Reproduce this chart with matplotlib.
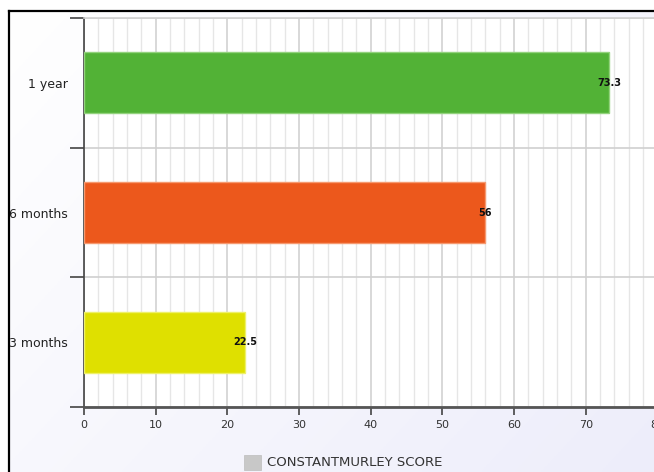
import numpy as np
import matplotlib
matplotlib.use('Agg')
import matplotlib.pyplot as plt
from matplotlib.patches import Rectangle

categories = ['3 months', '6 months', '1 year']
scores = [22.5, 56, 73.3]
bar_colors = ['#dfe000', '#ec581c', '#52b236']
edge_colors = ['#eef06a', '#f6996f', '#93d27d']
legend_label = 'CONSTANTMURLEY SCORE'
x_ticks = [0, 10, 20, 30, 40, 50, 60, 70, 80]

W, H = 654, 472
fig = plt.figure(figsize=(W / 100, H / 100), dpi=100)
fig.patch.set_facecolor('white')

# soft lavender gradient behind the chart, inside the frame
bg = fig.add_axes([9 / W, 0, 1 - 9 / W, (H - 11) / H], zorder=-5)
gx, gy = np.meshgrid(np.linspace(0, 1, 200), np.linspace(0, 1, 200))
t = (gx * 0.6 + gy * 0.4)
c0 = np.array([1.0, 1.0, 1.0])
c1 = np.array([0.93, 0.93, 0.982])
img = c0[None, None, :] * (1 - t[..., None]) + c1[None, None, :] * t[..., None]
bg.imshow(img, aspect='auto', extent=[0, 1, 0, 1], origin='upper')
bg.axis('off')

# plot area: x=84..657, y=18..407 in pixels
left, right, top, bottom = 84, 657.4, 18, 407
ax = fig.add_axes([left / W, (H - bottom) / H, (right - left) / W, (bottom - top) / H])
ax.set_facecolor('white')

y = np.arange(len(categories))
ax.barh(y, scores, height=0.47, color=bar_colors, edgecolor=edge_colors,
        linewidth=1, zorder=3)
for yi, v in zip(y, scores):
    ax.text(v, yi, f'{v:g}', ha='center', va='center', fontsize=7,
            fontweight='bold', color='#111111', zorder=4)

ax.set_xlim(0, 80)
ax.set_ylim(-0.5, len(categories) - 0.5)

ax.set_xticks(x_ticks)
ax.set_xticks(np.arange(0, 81, 2), minor=True)
ax.set_xticklabels([str(v) for v in x_ticks])
ax.tick_params(axis='x', which='major', direction='out', length=6, width=1.2,
               color='#444444', labelsize=8, labelcolor='#333333', pad=3)
ax.tick_params(axis='x', which='minor', length=0)

ax.set_yticks(np.arange(-0.5, len(categories), 1.0))
ax.set_yticklabels([])
ax.set_yticks(y, minor=True)
ax.set_yticklabels(categories, minor=True)
ax.tick_params(axis='y', which='major', direction='out', length=10, width=1.2,
               color='#444444')
ax.tick_params(axis='y', which='minor', length=0, pad=11.5, labelsize=9,
               labelcolor='#222222')

ax.grid(axis='x', which='minor', color='#e6e6e6', linewidth=1, zorder=0)
ax.grid(axis='x', which='major', color='#d2d2d2', linewidth=1.2, zorder=0)
ax.grid(axis='y', which='major', color='#d0d0d0', linewidth=1.2, zorder=0)
ax.set_axisbelow(True)

ax.spines['right'].set_visible(False)
ax.spines['top'].set_color('#d0d0d0')
ax.spines['top'].set_linewidth(1.2)
ax.spines['left'].set_color('#444444')
ax.spines['left'].set_linewidth(1.2)
ax.spines['bottom'].set_color('#555555')
ax.spines['bottom'].set_linewidth(2)

# legend below the plot
fig.patches.append(Rectangle((244 / W, (H - 470) / H), 17 / W, 15 / H,
                             transform=fig.transFigure, facecolor='#c8c8c8',
                             edgecolor='#bdbdbd', linewidth=0.5))
fig.text(267 / W, (H - 463) / H, legend_label, ha='left', va='center',
         fontsize=9.5, color='#333333')

# screenshot frame: blank strip at the left, black border lines
fig.patches.append(Rectangle((0, 0), 9 / W, 1, transform=fig.transFigure,
                             facecolor='white', edgecolor='none', zorder=20))
fig.patches.append(Rectangle((0, (H - 11) / H), 1, 11 / H, transform=fig.transFigure,
                             facecolor='white', edgecolor='none', zorder=20))
fig.lines.append(plt.Line2D([9 / W, 9 / W], [0, (H - 11) / H],
                            transform=fig.transFigure, color='black',
                            linewidth=1.6, zorder=21))
fig.lines.append(plt.Line2D([9 / W, 1], [(H - 11) / H, (H - 11) / H],
                            transform=fig.transFigure, color='black',
                            linewidth=1.6, zorder=21))

fig.savefig('out.png', dpi=100)
